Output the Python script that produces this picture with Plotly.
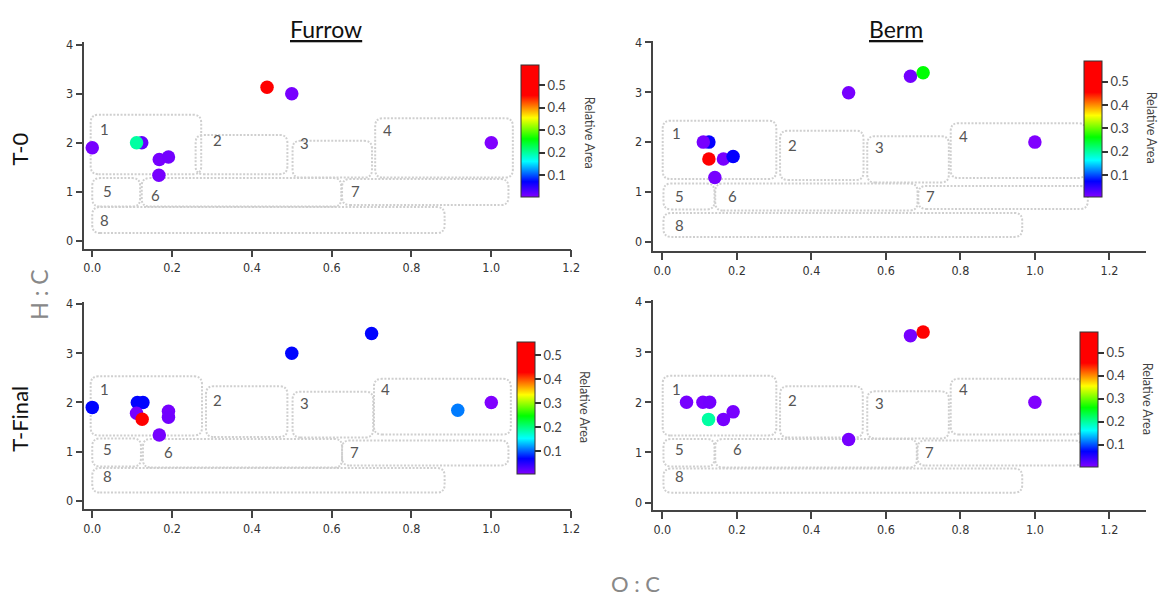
import plotly.graph_objects as go

# ---------------- data ----------------
furrow_t0_x = [0.0, 0.124, 0.111, 0.168, 0.191, 0.167, 0.438, 0.5, 1.0]
furrow_t0_y = [1.90, 2.0, 2.0, 1.66, 1.71, 1.34, 3.13, 3.0, 2.0]
furrow_t0_area = [0.010, 0.020, 0.200, 0.010, 0.012, 0.010, 0.592, 0.010, 0.005]

berm_t0_x = [0.125, 0.110, 0.164, 0.19, 0.125, 0.141, 0.5, 0.666, 0.70, 1.0]
berm_t0_y = [2.0, 2.0, 1.66, 1.71, 1.66, 1.29, 2.99, 3.32, 3.39, 2.0]
berm_t0_area = [0.070, 0.010, 0.010, 0.070, 0.586, 0.010, 0.010, 0.012, 0.260, 0.005]

furrow_tf_x = [0.0, 0.113, 0.127, 0.111, 0.125, 0.191, 0.191, 0.168, 0.5, 0.70, 0.916, 1.0]
furrow_tf_y = [1.90, 2.0, 2.0, 1.78, 1.66, 1.82, 1.70, 1.34, 3.0, 3.40, 1.84, 2.0]
furrow_tf_area = [0.070, 0.070, 0.070, 0.010, 0.555, 0.010, 0.012, 0.010, 0.070, 0.070, 0.110, 0.005]

berm_tf_x = [0.065, 0.109, 0.127, 0.164, 0.19, 0.124, 0.5, 0.666, 0.70, 1.0]
berm_tf_y = [2.0, 2.0, 2.0, 1.66, 1.81, 1.66, 1.26, 3.33, 3.40, 2.0]
berm_tf_area = [0.010, 0.010, 0.012, 0.010, 0.010, 0.200, 0.010, 0.010, 0.592, 0.005]

region_labels = ["1", "2", "3", "4", "5", "6", "7", "8"]

# region boxes (x0, x1, y0, y1) in O:C / H:C units, per panel
furrow_t0_regions = [(-0.004, 0.273, 1.36, 2.57), (0.259, 0.489, 1.36, 2.16), (0.502, 0.701, 1.29, 2.04),
                     (0.709, 1.054, 1.29, 2.50), (0.0, 0.120, 0.70, 1.28), (0.124, 0.624, 0.70, 1.28),
                     (0.626, 1.043, 0.73, 1.26), (0.0, 0.883, 0.16, 0.69)]
furrow_t0_label_pos = [(0.03, 2.29), (0.315, 2.06), (0.532, 2.0), (0.739, 2.25),
                       (0.038, 1.02), (0.158, 0.94), (0.659, 1.01), (0.03, 0.43)]

furrow_tf_regions = [(-0.004, 0.275, 1.33, 2.53), (0.285, 0.489, 1.30, 2.33), (0.502, 0.704, 1.29, 2.22),
                     (0.706, 1.049, 1.35, 2.48), (0.0, 0.122, 0.70, 1.27), (0.127, 0.626, 0.68, 1.26),
                     (0.626, 1.043, 0.72, 1.23), (0.0, 0.883, 0.17, 0.67)]
furrow_tf_label_pos = [(0.03, 2.28), (0.315, 2.06), (0.532, 1.98), (0.736, 2.28),
                       (0.038, 1.06), (0.191, 1.0), (0.657, 1.0), (0.038, 0.50)]

berm_t0_regions = [(0.001, 0.306, 1.26, 2.43), (0.316, 0.540, 1.24, 2.23), (0.550, 0.769, 1.19, 2.12),
                   (0.774, 1.137, 1.28, 2.38), (0.003, 0.140, 0.65, 1.17), (0.142, 0.685, 0.63, 1.17),
                   (0.687, 1.142, 0.66, 1.12), (0.003, 0.966, 0.10, 0.58)]
berm_t0_label_pos = [(0.038, 2.18), (0.349, 1.95), (0.583, 1.90), (0.807, 2.13),
                     (0.045, 0.91), (0.187, 0.91), (0.721, 0.91), (0.045, 0.34)]

berm_tf_regions = [(0.001, 0.306, 1.34, 2.53), (0.316, 0.538, 1.30, 2.32), (0.550, 0.769, 1.28, 2.22),
                   (0.774, 1.127, 1.36, 2.47), (0.003, 0.140, 0.72, 1.27), (0.142, 0.683, 0.70, 1.27),
                   (0.685, 1.127, 0.74, 1.24), (0.003, 0.966, 0.20, 0.68)]
berm_tf_label_pos = [(0.038, 2.27), (0.349, 2.04), (0.583, 1.99), (0.807, 2.27),
                     (0.045, 1.07), (0.202, 1.07), (0.717, 1.01), (0.045, 0.53)]

column_titles = ["Furrow", "Berm"]
row_titles = ["T-0", "T-Final"]

# ---------------- style ----------------
W, H = 1173, 597
FONT = "Lato, 'Noto Sans', sans-serif"
TICKFONT = "'Liberation Sans Narrow', 'Arial Narrow', 'DejaVu Sans Condensed', Lato, sans-serif"
AXC = "#444444"

colorscale = [[0.0, "#8000ff"], [0.116, "#0000ff"], [0.27, "#00ffff"], [0.44, "#00ff00"],
              [0.60, "#ffff00"], [0.77, "#ff0000"], [1.0, "#ff0000"]]

panels = [
    dict(xa="x", ya="y", px=(84, 575), py=(36.5, 245), xr=[-0.02, 1.2], yr=[-0.155, 4.05],
         cb=(524, 59.3, 132.4), cbt=(593, 128),
         data=(furrow_t0_x, furrow_t0_y, furrow_t0_area), reg=furrow_t0_regions, lab=furrow_t0_label_pos),
    dict(xa="x2", ya="y2", px=(658, 1154.4), py=(35, 247.7), xr=[-0.024, 1.297], yr=[-0.187, 4.034],
         cb=(1092.3, 56, 135.7), cbt=(1160, 123),
         data=(berm_t0_x, berm_t0_y, berm_t0_area), reg=berm_t0_regions, lab=berm_t0_label_pos),
    dict(xa="x3", ya="y3", px=(84, 575), py=(299.3, 508.3), xr=[-0.02, 1.2], yr=[-0.167, 4.034],
         cb=(520.7, 339.3, 132.4), cbt=(588, 405),
         data=(furrow_tf_x, furrow_tf_y, furrow_tf_area), reg=furrow_tf_regions, lab=furrow_tf_label_pos),
    dict(xa="x4", ya="y4", px=(658, 1154.4), py=(297, 509.3), xr=[-0.024, 1.297], yr=[-0.15, 4.04],
         cb=(1088.3, 329, 135), cbt=(1157, 397),
         data=(berm_tf_x, berm_tf_y, berm_tf_area), reg=berm_tf_regions, lab=berm_tf_label_pos),
]


def rrect(x0, x1, y0, y1, rx, ry):
    return (f"M {x0 + rx},{y0} L {x1 - rx},{y0} Q {x1},{y0} {x1},{y0 + ry} "
            f"L {x1},{y1 - ry} Q {x1},{y1} {x1 - rx},{y1} L {x0 + rx},{y1} "
            f"Q {x0},{y1} {x0},{y1 - ry} L {x0},{y0 + ry} Q {x0},{y0} {x0 + rx},{y0} Z")


fig = go.Figure()
shapes = []
annotations = []
layout_axes = {}

for p in panels:
    xs, ys, vs = p["data"]
    cbx, cby, cblen = p["cb"]
    fig.add_trace(go.Scatter(
        x=xs, y=ys, mode="markers", xaxis=p["xa"], yaxis=p["ya"], showlegend=False,
        marker=dict(size=13.5, color=vs, colorscale=colorscale, showscale=True, line=dict(width=0),
                    colorbar=dict(x=cbx / W, xanchor="left", y=1 - cby / H, yanchor="top",
                                  len=cblen, lenmode="pixels", thickness=18, xpad=0, ypad=0,
                                  outlinecolor="#333333", outlinewidth=1,
                                  tickmode="linear", tick0=0.1, dtick=0.1, tickformat=".1f",
                                  ticks="outside", ticklen=6, tickwidth=1.5, tickcolor="#333333",
                                  tickfont=dict(family=FONT, size=13, color="#444444"))),
    ))
    xkey = "xaxis" + p["xa"][1:]
    ykey = "yaxis" + p["ya"][1:]
    layout_axes[xkey] = dict(domain=[p["px"][0] / W, p["px"][1] / W], range=p["xr"], anchor=p["ya"],
                             showgrid=False, zeroline=False, showline=True, linecolor=AXC, linewidth=1.5,
                             ticks="outside", ticklen=7, tickwidth=1.5, tickcolor=AXC,
                             tickmode="linear", tick0=0, dtick=0.2, tickformat=".1f",
                             tickfont=dict(family=TICKFONT, size=12.5, color="#333333"))
    layout_axes[ykey] = dict(domain=[1 - p["py"][1] / H, 1 - p["py"][0] / H], range=p["yr"], anchor=p["xa"],
                             showgrid=False, zeroline=False, showline=True, linecolor=AXC, linewidth=1.5,
                             ticks="outside", ticklen=7, tickwidth=1.5, tickcolor=AXC,
                             tickmode="linear", tick0=0, dtick=1,
                             tickfont=dict(family=TICKFONT, size=12.5, color="#333333"))
    sx = (p["px"][1] - p["px"][0]) / (p["xr"][1] - p["xr"][0])
    sy = (p["py"][1] - p["py"][0]) / (p["yr"][1] - p["yr"][0])
    rx, ry = 8 / sx, 8 / sy
    for (x0, x1, y0, y1) in p["reg"]:
        shapes.append(dict(type="path", xref=p["xa"], yref=p["ya"], path=rrect(x0, x1, y0, y1, rx, ry),
                           line=dict(color="#cfcfcf", width=2, dash="2px,1.6px"), layer="below"))
    for lbl, (lx, ly) in zip(region_labels, p["lab"]):
        annotations.append(dict(x=lx, y=ly, xref=p["xa"], yref=p["ya"], text=lbl, showarrow=False,
                                xanchor="center", yanchor="middle",
                                font=dict(family=FONT, size=15, color="#555555")))
    tx, ty = p["cbt"]
    annotations.append(dict(x=tx / W, y=1 - ty / H, xref="paper", yref="paper", text="Relative Area",
                            showarrow=False, textangle=90, xanchor="center", yanchor="middle",
                            font=dict(family=FONT, size=12.5, color="#444444")))

for t, cx in zip(column_titles, [328, 903]):
    annotations.append(dict(x=cx / W, y=1 - 23 / H, xref="paper", yref="paper", text=f"<u>{t}</u>",
                            showarrow=False, xanchor="center", yanchor="middle",
                            font=dict(family=FONT, size=23, color="#111111")))
for t, cy in zip(row_titles, [144, 417]):
    annotations.append(dict(x=19 / W, y=1 - cy / H, xref="paper", yref="paper", text=t,
                            showarrow=False, textangle=-90, xanchor="center", yanchor="middle",
                            font=dict(family=FONT, size=22, color="#111111")))
annotations.append(dict(x=38 / W, y=1 - 292 / H, xref="paper", yref="paper", text="H : C", showarrow=False,
                        textangle=-90, xanchor="center", yanchor="middle",
                        font=dict(family=FONT, size=23, color="#888888")))
annotations.append(dict(x=640 / W, y=1 - 583 / H, xref="paper", yref="paper", text="O : C", showarrow=False,
                        xanchor="center", yanchor="middle",
                        font=dict(family=FONT, size=22, color="#888888")))

fig.update_layout(width=W, height=H, margin=dict(l=0, r=0, t=0, b=0),
                  paper_bgcolor="white", plot_bgcolor="white",
                  shapes=shapes, annotations=annotations, **layout_axes)

fig.write_html("out.html")
